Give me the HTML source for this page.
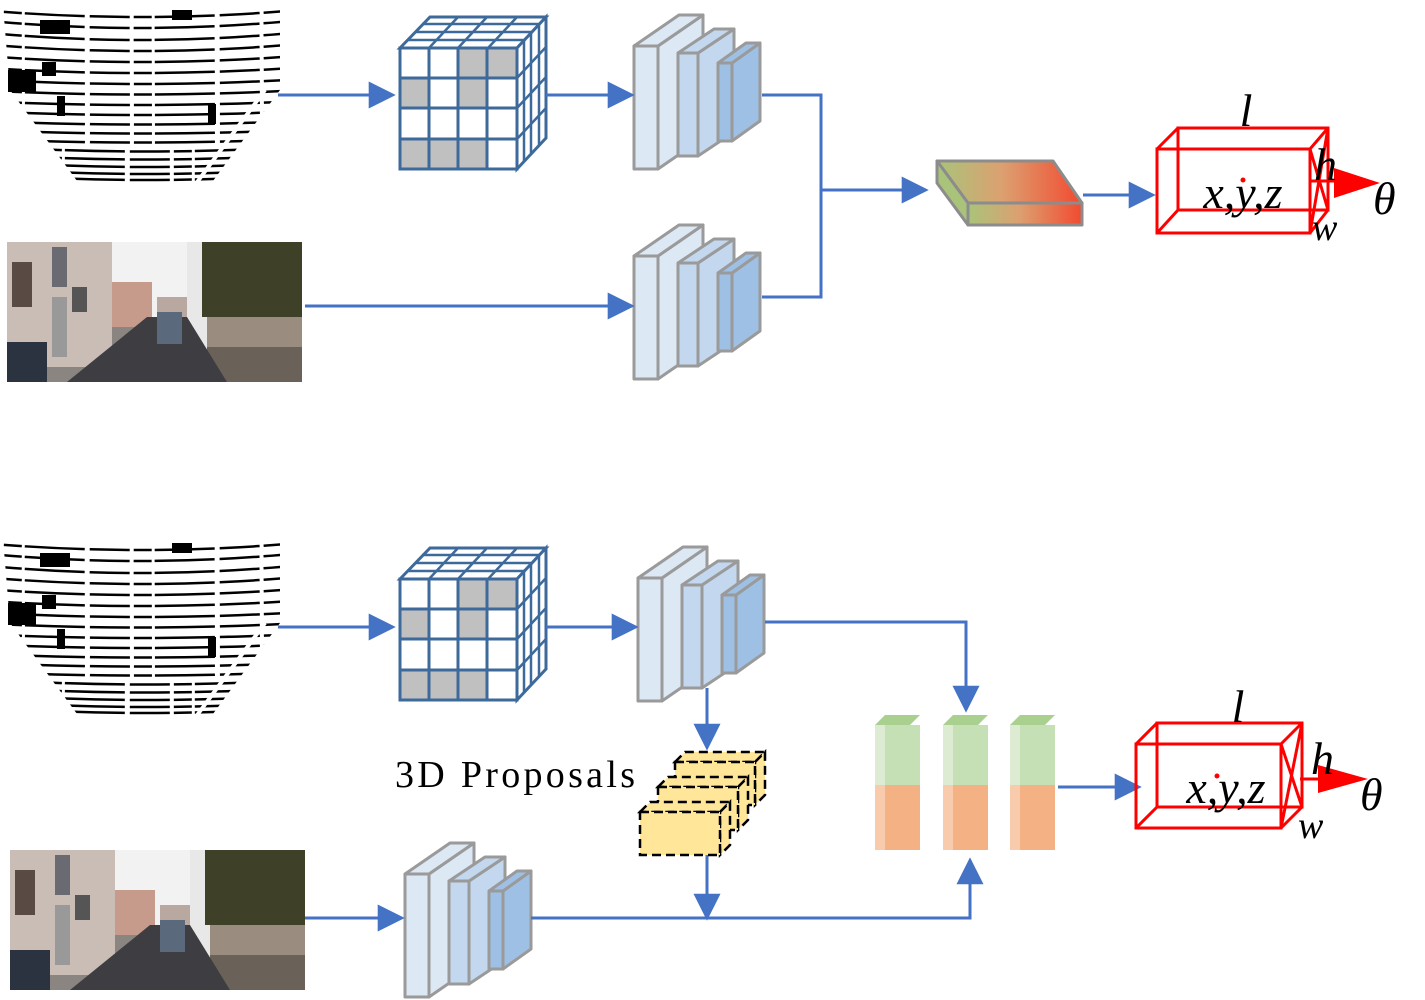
<!DOCTYPE html>
<html><head><meta charset="utf-8"><style>
html,body{margin:0;padding:0;background:#fff}
svg{display:block}
text{font-family:"Liberation Serif",serif}
</style></head><body>
<svg width="1425" height="1000" viewBox="0 0 1425 1000" xmlns="http://www.w3.org/2000/svg">
<defs>
<marker id="ah" viewBox="0 0 10 10" refX="9" refY="5" markerWidth="9" markerHeight="9" orient="auto" markerUnits="strokeWidth"><path d="M0,0 L10,5 L0,10z" fill="#4472c4"/></marker>
<linearGradient id="gr" x1="0" x2="1" y1="0" y2="0"><stop offset="0" stop-color="#a9c47a"/><stop offset="0.45" stop-color="#dca070"/><stop offset="1" stop-color="#f24a30"/></linearGradient>
<clipPath id="lc"><polygon points="3,5 280,5 280,90 210,185 80,185 10,90"/></clipPath>
<g id="lidar">
 <g clip-path="url(#lc)" fill="none" stroke="#000" stroke-width="2.5" stroke-dasharray="40 4 18 3 60 5">
  <path d="M-40,30 Q140,50 320,30"/><path d="M-40,42 Q140,60 320,42"/><path d="M-40,54 Q140,70 320,54"/>
  <path d="M-40,66 Q140,80 320,66"/><path d="M-40,78 Q140,90 320,78"/><path d="M-40,89 Q140,100 320,89"/>
  <path d="M-40,100 Q140,110 320,100"/><path d="M-40,110 Q140,120 320,110"/><path d="M-40,120 Q140,129 320,120"/>
  <path d="M-40,129 Q140,138 320,129"/><path d="M-40,138 Q140,147 320,138"/><path d="M0,147 Q140,156 300,147"/>
  <path d="M0,155 Q140,164 300,155"/><path d="M0,162 Q140,172 300,162"/><path d="M0,169 Q140,179 300,169"/>
  <path d="M0,175 Q140,185 300,175"/>
  <path d="M-40,18 Q140,38 320,18"/><path d="M-40,8 Q140,26 320,8"/>
 </g>
 <rect x="8" y="70" width="28" height="22" fill="#000"/><rect x="42" y="62" width="14" height="14" fill="#000"/>
 <rect x="57" y="96" width="8" height="20" fill="#000"/><rect x="208" y="104" width="8" height="20" fill="#000"/>
 <rect x="40" y="20" width="30" height="14" fill="#000"/><rect x="172" y="10" width="20" height="10" fill="#000"/>
 <line x1="195" y1="185" x2="265" y2="90" stroke="#fff" stroke-width="4"/>
</g>
<g id="cam">
 <rect x="0" y="0" width="295" height="140" fill="#8a8580"/>
 <rect x="0" y="0" width="105" height="125" fill="#c9bdb5"/>
 <rect x="5" y="20" width="20" height="45" fill="#5a4a44"/><rect x="45" y="5" width="15" height="40" fill="#6a6a72"/>
 <rect x="65" y="45" width="15" height="25" fill="#555"/><rect x="45" y="55" width="15" height="60" fill="#999"/>
 <rect x="105" y="0" width="75" height="80" fill="#f2f2f2"/>
 <rect x="105" y="40" width="40" height="45" fill="#c79b8b"/><rect x="150" y="55" width="30" height="30" fill="#b8a8a0"/>
 <rect x="180" y="0" width="20" height="120" fill="#e8e8e8"/>
 <rect x="195" y="0" width="100" height="75" fill="#3e4028"/><rect x="200" y="75" width="95" height="30" fill="#9a8d80"/>
 <rect x="200" y="105" width="95" height="35" fill="#6a6258"/>
 <polygon points="60,140 140,75 180,75 220,140" fill="#3e3d42"/>
 <rect x="150" y="70" width="25" height="32" fill="#5a6a7c"/>
 <rect x="0" y="100" width="40" height="40" fill="#2c3340"/>
</g>
<g id="vox">
 <polygon points="400,48 430,17 546,17 517,48" fill="#fff" stroke="#3d6a9a" stroke-width="3"/>
 <polygon points="517,48 546,17 546,138 517,169" fill="#fff" stroke="#3d6a9a" stroke-width="3"/>
 <g stroke="#3d6a9a" stroke-width="2.5" fill="none">
  <line x1="407" y1="40" x2="524" y2="40"/><line x1="415" y1="32" x2="531" y2="32"/><line x1="422" y1="24" x2="539" y2="24"/>
  <line x1="429" y1="48" x2="458" y2="17"/><line x1="458" y1="48" x2="487" y2="17"/><line x1="488" y1="48" x2="517" y2="17"/>
  <line x1="524" y1="40" x2="524" y2="161"/><line x1="531" y1="32" x2="531" y2="153"/><line x1="539" y1="24" x2="539" y2="146"/>
  <line x1="517" y1="78" x2="546" y2="47"/><line x1="517" y1="108" x2="546" y2="77"/><line x1="517" y1="139" x2="546" y2="108"/>
 </g>
 <rect x="400" y="48" width="117" height="121" fill="#fff"/>
 <rect x="458" y="48" width="29" height="30" fill="#c0c0c0"/><rect x="487" y="48" width="30" height="30" fill="#c0c0c0"/>
 <rect x="400" y="78" width="29" height="30" fill="#c0c0c0"/><rect x="458" y="78" width="29" height="30" fill="#c0c0c0"/>
 <rect x="400" y="139" width="29" height="30" fill="#c0c0c0"/><rect x="429" y="139" width="29" height="30" fill="#c0c0c0"/><rect x="458" y="139" width="29" height="30" fill="#c0c0c0"/>
 <g stroke="#3d6a9a" stroke-width="3" fill="none">
  <rect x="400" y="48" width="117" height="121"/>
  <line x1="429" y1="48" x2="429" y2="169"/><line x1="458" y1="48" x2="458" y2="169"/><line x1="487" y1="48" x2="487" y2="169"/>
  <line x1="400" y1="78" x2="517" y2="78"/><line x1="400" y1="108" x2="517" y2="108"/><line x1="400" y1="139" x2="517" y2="139"/>
 </g>
</g>
<g id="stk" stroke="#9a9a9a" stroke-width="3" stroke-linejoin="round">
 <polygon points="658,46 703,15 703,138 658,169" fill="#dde8f5"/>
 <polygon points="634,46 679,15 703,15 658,46" fill="#dde8f5"/>
 <rect x="634" y="46" width="24" height="123" fill="#dde8f5"/>
 <polygon points="698,53 734,29 734,132 698,156" fill="#c3d8ef"/>
 <polygon points="678,53 714,29 734,29 698,53" fill="#c3d8ef"/>
 <rect x="678" y="53" width="20" height="103" fill="#c3d8ef"/>
 <polygon points="732,63 760,43 760,121 732,141" fill="#9fc0e5"/>
 <polygon points="718,63 746,43 760,43 732,63" fill="#9fc0e5"/>
 <rect x="718" y="63" width="14" height="78" fill="#9fc0e5"/>
</g>
<g id="pcol">
 <polygon points="0,10 10,0 45,0 35,10" fill="#a9d08e"/>
 <rect x="0" y="10" width="10" height="60" fill="#dcebd2"/><rect x="10" y="10" width="35" height="60" fill="#c5e0b4"/>
 <rect x="0" y="70" width="10" height="65" fill="#f8cbad"/><rect x="10" y="70" width="35" height="65" fill="#f4b183"/>
</g>
</defs>

<use href="#lidar"/>
<use href="#cam" x="7" y="242"/>
<use href="#vox"/>
<use href="#stk"/>
<use href="#stk" y="210"/>
<g stroke="#4472c4" stroke-width="3" fill="none">
 <line x1="278" y1="95" x2="393" y2="95" marker-end="url(#ah)"/>
 <line x1="546" y1="95" x2="632" y2="95" marker-end="url(#ah)"/>
 <line x1="305" y1="306" x2="632" y2="306" marker-end="url(#ah)"/>
 <polyline points="762,95 821,95 821,297 762,297"/>
 <line x1="821" y1="190" x2="926" y2="190" marker-end="url(#ah)"/>
 <line x1="1083" y1="195" x2="1153" y2="195" marker-end="url(#ah)"/>
</g>
<g stroke="#8c8c8c" stroke-width="3" stroke-linejoin="round">
 <polygon points="937,161 1053,161 1082,203 968,203" fill="url(#gr)"/>
 <polygon points="937,161 968,203 968,225 937,183" fill="#a9c47a"/>
 <rect x="968" y="203" width="114" height="22" fill="url(#gr)"/>
</g>
<g stroke="#ff0000" stroke-width="3" fill="none">
 <rect x="1178" y="128" width="150" height="82"/>
 <rect x="1157" y="149" width="153" height="84"/>
 <line x1="1157" y1="149" x2="1178" y2="128"/><line x1="1310" y1="149" x2="1328" y2="128"/>
 <line x1="1157" y1="233" x2="1178" y2="210"/><line x1="1310" y1="233" x2="1328" y2="210"/>
 <line x1="1310" y1="149" x2="1328" y2="210"/><line x1="1310" y1="233" x2="1328" y2="128"/>
 <line x1="1310" y1="181" x2="1340" y2="181"/>
</g>
<polygon points="1334,168 1380,183 1334,198" fill="#ff0000"/>
<circle cx="1243" cy="180" r="2.5" fill="#ff0000"/>
<g font-style="italic" font-size="46" fill="#000">
 <text x="1243" y="208" text-anchor="middle">x,y,z</text>
 <text x="1246" y="126" text-anchor="middle">l</text>
 <text x="1314" y="180">h</text>
 <text x="1312" y="240" font-size="38">w</text>
 <text x="1373" y="214">θ</text>
</g>

<use href="#lidar" y="533"/>
<use href="#cam" x="10" y="850"/>
<use href="#vox" y="531"/>
<use href="#stk" x="4" y="532"/>
<use href="#stk" x="-229" y="828"/>
<g stroke="#4472c4" stroke-width="3" fill="none">
 <line x1="278" y1="627" x2="393" y2="627" marker-end="url(#ah)"/>
 <line x1="546" y1="627" x2="636" y2="627" marker-end="url(#ah)"/>
 <polyline points="765,622 966,622 966,710" marker-end="url(#ah)"/>
 <line x1="707" y1="688" x2="707" y2="748" marker-end="url(#ah)"/>
 <line x1="707" y1="855" x2="707" y2="918" marker-end="url(#ah)"/>
 <line x1="305" y1="918" x2="402" y2="918" marker-end="url(#ah)"/>
 <polyline points="531,918 970,918 970,860" marker-end="url(#ah)"/>
 <line x1="1058" y1="787" x2="1139" y2="787" marker-end="url(#ah)"/>
</g>
<text x="395" y="787" font-size="38" textLength="240" lengthAdjust="spacing">3D  Proposals</text>
<g stroke="#000" stroke-width="2.5" stroke-dasharray="9 5" fill="#ffe699">
 <polygon points="675,762 685,752 765,752 755,762"/><polygon points="755,762 765,752 765,795 755,805"/><rect x="675" y="762" width="80" height="43"/>
 <polygon points="658,787 668,777 748,777 738,787"/><polygon points="738,787 748,777 748,820 738,830"/><rect x="658" y="787" width="80" height="43"/>
 <polygon points="640,812 650,802 730,802 720,812"/><polygon points="720,812 730,802 730,845 720,855"/><rect x="640" y="812" width="80" height="43"/>
</g>
<use href="#pcol" x="875" y="715"/>
<use href="#pcol" x="943" y="715"/>
<use href="#pcol" x="1010" y="715"/>
<g stroke="#ff0000" stroke-width="3" fill="none">
 <rect x="1157" y="723" width="145" height="84"/>
 <rect x="1136" y="744" width="145" height="84"/>
 <line x1="1136" y1="744" x2="1157" y2="723"/><line x1="1281" y1="744" x2="1302" y2="723"/>
 <line x1="1136" y1="828" x2="1157" y2="807"/><line x1="1281" y1="828" x2="1302" y2="807"/>
 <line x1="1281" y1="744" x2="1302" y2="807"/><line x1="1281" y1="828" x2="1302" y2="723"/>
 <line x1="1300" y1="779" x2="1320" y2="779"/>
</g>
<polygon points="1318,765 1368,779 1318,793" fill="#ff0000"/>
<circle cx="1217" cy="776" r="2.5" fill="#ff0000"/>
<g font-style="italic" font-size="46" fill="#000">
 <text x="1226" y="803" text-anchor="middle">x,y,z</text>
 <text x="1238" y="722" text-anchor="middle">l</text>
 <text x="1311" y="774">h</text>
 <text x="1298" y="838" font-size="38">w</text>
 <text x="1360" y="810">θ</text>
</g>
</svg>
</body></html>
